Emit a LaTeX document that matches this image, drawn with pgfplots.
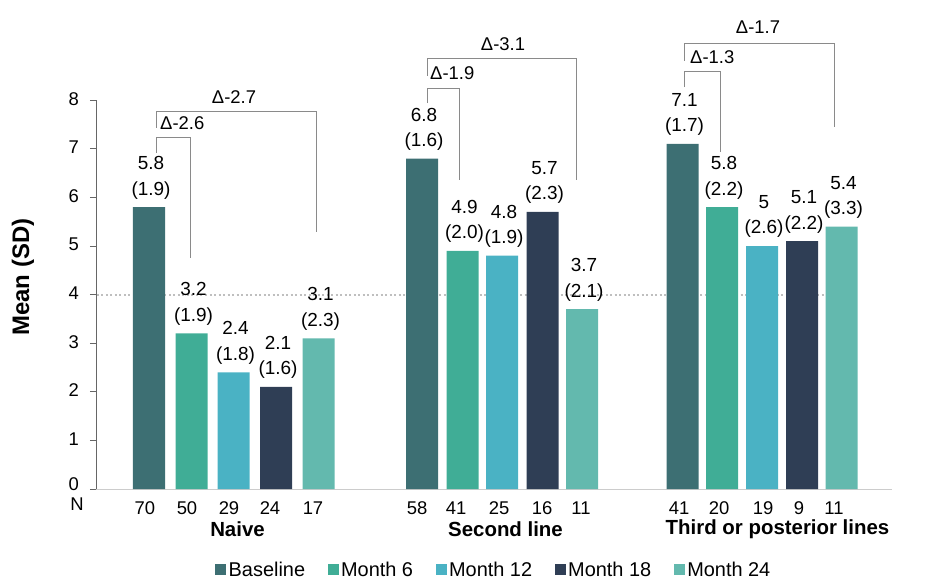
\documentclass[border=0pt]{standalone}
\usepackage{fontspec}
\setmainfont{Liberation Sans}
\usepackage{pgfplots}
\pgfplotsset{compat=1.18}
\definecolor{cBase}{HTML}{3D6F73}
\definecolor{cM6}{HTML}{40AD96}
\definecolor{cM12}{HTML}{4AB2C4}
\definecolor{cM18}{HTML}{2F3E55}
\definecolor{cM24}{HTML}{63B9AE}
\definecolor{brk}{HTML}{8A8A8A}
\newcommand{\fs}[1]{\fontsize{#1}{25}\selectfont}
\begin{document}
\begin{tikzpicture}
\begin{axis}[
  at={(0,0)}, anchor=south west,
  scale only axis, width=796bp, height=388.8bp,
  xmin=96, xmax=892, ymin=0, ymax=8,
  clip=false,
  axis x line=bottom, axis y line=left,
  x axis line style={-, draw=black!20, line width=0.8pt},
  y axis line style={-, draw=black!60, line width=0.9pt},
  ytick={1,2,...,8},
  extra y ticks={0},
  extra y tick style={yticklabel style={yshift=3.5bp}},
  ytick style={draw=black!60, line width=0.8pt},
  tick align=outside, major tick length=6bp,
  yticklabel style={font=\fs{18.5}, inner sep=1bp, xshift=-10bp, yshift=1.5bp, /pgf/number format/assume math mode=true},
  xtick={145,187,229,270,313,417,456,499,542,581,679,719,763,799,834},
  xticklabels={70,50,29,24,17,58,41,25,16,11,41,20,19,9,11},
  xtick style={draw=none},
  xticklabel style={font=\fs{18.5}, yshift=-3bp},
  ybar, bar width=32, bar shift=0pt,
  nodes near coords, point meta=explicit symbolic,
  every node near coord/.append style={font=\fontsize{19}{25.5}\selectfont, align=center, anchor=south, inner sep=0pt, yshift=8bp, xshift=2bp, text=black},
  legend style={at={(axis description cs:0.5,-0.208)}, anchor=center, draw=none, fill=none,
    legend columns=5, font=\fs{20},
    /tikz/every even column/.append style={column sep=20bp},
    nodes={inner sep=2.5bp}},
  legend image code/.code={\fill[#1] (0bp,-5.5bp) rectangle (11bp,5.5bp);},
]
% reference dotted line at 4
\addplot[sharp plot, forget plot, draw=black!25, dash pattern=on 2bp off 2.5bp, line width=1.8bp, nodes near coords=] coordinates {(97,4) (850,4)};

\addplot[fill=cBase, draw=none] coordinates {(149,5.8) [5.8\\(1.9)] (422,6.8) [6.8\\(1.6)] (682.5,7.1) [7.1\\(1.7)]};
\addplot[fill=cM6, draw=none] coordinates {(191.5,3.2) [3.2\\(1.9)] (462.5,4.9) [4.9\\(2.0)] (722,5.8) [5.8\\(2.2)]};
\addplot[fill=cM12, draw=none] coordinates {(233.5,2.4) [2.4\\(1.8)] (502,4.8) [4.8\\(1.9)] (762,5.0) [5\\(2.6)]};
\addplot[fill=cM18, draw=none] coordinates {(276,2.1) [2.1\\(1.6)] (542.5,5.7) [5.7\\(2.3)] (802,5.1) [5.1\\(2.2)]};
\addplot[fill=cM24, draw=none] coordinates {(318.5,3.1) [3.1\\(2.3)] (582,3.7) [3.7\\(2.1)] (841.5,5.4) [5.4\\(3.3)]};
\legend{Baseline, Month 6, Month 12, Month 18, Month 24}

% brackets
\addplot[sharp plot, forget plot, draw=brk, line width=0.8pt, nodes near coords=] coordinates {(156,6.91) (156,7.24) (190,7.24) (190,4.75)};
\addplot[sharp plot, forget plot, draw=brk, line width=0.8pt, nodes near coords=] coordinates {(156,7.43) (156,7.78) (316,7.78) (316,5.29)};
\addplot[sharp plot, forget plot, draw=brk, line width=0.8pt, nodes near coords=] coordinates {(427,7.94) (427,8.25) (459,8.25) (459,6.36)};
\addplot[sharp plot, forget plot, draw=brk, line width=0.8pt, nodes near coords=] coordinates {(427,8.50) (427,8.85) (576,8.85) (576,6.36)};
\addplot[sharp plot, forget plot, draw=brk, line width=0.8pt, nodes near coords=] coordinates {(684,8.27) (684,8.60) (720,8.60) (720,6.93)};
\addplot[sharp plot, forget plot, draw=brk, line width=0.8pt, nodes near coords=] coordinates {(684,8.81) (684,9.16) (834,9.16) (834,7.45)};

\node[font=\fs{18.5}, anchor=west, inner sep=0pt] at (axis cs:160,7.53) {Δ-2.6};
\node[font=\fs{18.5}, inner sep=0pt] at (axis cs:234,8.07) {Δ-2.7};
\node[font=\fs{18.5}, anchor=west, inner sep=0pt] at (axis cs:430,8.56) {Δ-1.9};
\node[font=\fs{18.5}, inner sep=0pt] at (axis cs:503,9.16) {Δ-3.1};
\node[font=\fs{18.5}, anchor=west, inner sep=0pt] at (axis cs:690,8.89) {Δ-1.3};
\node[font=\fs{18.5}, inner sep=0pt] at (axis cs:758,9.51) {Δ-1.7};

% group labels
\node[font=\bfseries\fs{20.5}, inner sep=0pt] at ([yshift=-40bp]axis cs:237.5,0) {Naive};
\node[font=\bfseries\fs{20.5}, inner sep=0pt] at ([yshift=-40bp]axis cs:505.5,0) {Second line};
\node[font=\bfseries\fs{20.5}, inner sep=0pt] at ([yshift=-40bp]axis cs:777.5,0) {Third or posterior lines};
\node[font=\fs{18.5}, inner sep=0pt] at ([yshift=-15bp]axis cs:77,0) {N};
\node[font=\bfseries\fs{24}, rotate=90, inner sep=0pt] at (axis cs:23,4.36) {Mean (SD)};
\end{axis}
\pgfresetboundingbox
\path[use as bounding box] (-96bp,-95bp) rectangle (839bp,489bp);
\end{tikzpicture}
\end{document}
